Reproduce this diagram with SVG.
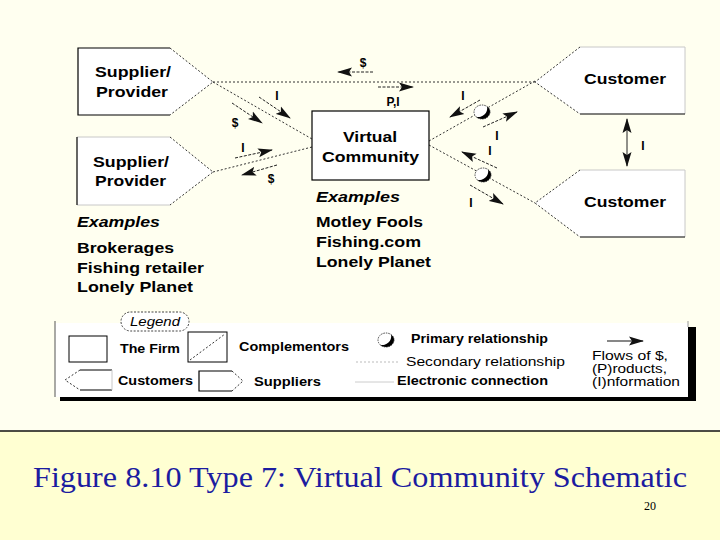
<svg xmlns="http://www.w3.org/2000/svg" width="720" height="540" viewBox="0 0 720 540">
<style>
.t{font-family:"Liberation Sans",Arial,sans-serif;font-weight:bold;fill:#000}
.n{font-size:15px}
.it{font-style:italic}
.lg{font-size:12px}
.rg{font-weight:normal}
.sol{fill:none;stroke:#000;stroke-width:1.2}
.faint{fill:none;stroke:#c8c8c8;stroke-width:1}
.dot{fill:none;stroke:#333;stroke-width:1;stroke-dasharray:2 2}
.shaft{fill:none;stroke:#222;stroke-width:1;stroke-dasharray:3 1.5;marker-end:url(#ah)}
.lbl{font-size:12px;text-anchor:middle}
</style>
<defs>
<marker id="ah" markerUnits="userSpaceOnUse" markerWidth="16" markerHeight="10" refX="14" refY="5" orient="auto">
<path d="M0,0.5 L15,5 L0,9.5 L3,5 Z" fill="#111"/>
</marker>
<marker id="ahs" markerUnits="userSpaceOnUse" markerWidth="16" markerHeight="10" refX="14" refY="5" orient="auto-start-reverse">
<path d="M0,0.5 L15,5 L0,9.5 L3,5 Z" fill="#111"/>
</marker>
<g id="prim">
<ellipse cx="0" cy="0" rx="8" ry="7" fill="#fff" stroke="#444" stroke-width="1" stroke-dasharray="1.5 1"/>
<path d="M5.1,-5.4 A8 7 0 1 1 -5.7,4.9 A9 9 0 0 0 5.1,-5.4 Z" fill="#000"/>
</g>
</defs>
<rect x="0" y="0" width="720" height="540" fill="#fffff0"/>
<rect x="0" y="431" width="720" height="109" fill="#ffffd2"/>
<line x1="0" y1="431" x2="720" y2="431" stroke="#111" stroke-width="1.5"/>

<g id="connectors">
<path class="dot" d="M213,82 L535,82"/>
<path class="dot" d="M213,82 L312,139"/>
<path class="dot" d="M213,172 L312,147"/>
<path class="dot" d="M429,141 L535,81"/>
<path class="dot" d="M429,145 L535,203"/>
<path class="shaft" d="M373,72 L338,72"/>
<path class="shaft" d="M378,87 L413,87"/>
<path class="shaft" d="M259,97 L290,118"/>
<path class="shaft" d="M232,103 L262,123"/>
<path class="shaft" d="M235,158 L272,150"/>
<path class="shaft" d="M277,165 L242,175"/>
<path class="shaft" d="M480,100 L450,117"/>
<path class="shaft" d="M483,127 L517,112"/>
<path class="shaft" d="M497,168 L462,152"/>
<path class="shaft" d="M470,185 L503,204"/>
<path d="M627,119 L627,166" fill="none" stroke="#222" stroke-width="1" marker-start="url(#ahs)" marker-end="url(#ah)"/>
<use href="#prim" x="482" y="112"/>
<use href="#prim" x="483" y="175"/>
<text class="t lbl" x="363" y="67">$</text>
<text class="t lbl" x="393" y="106">P,I</text>
<text class="t lbl" x="277" y="100">I</text>
<text class="t lbl" x="235" y="127">$</text>
<text class="t lbl" x="243" y="152">I</text>
<text class="t lbl" x="271" y="183">$</text>
<text class="t lbl" x="463" y="100">I</text>
<text class="t lbl" x="497" y="140">I</text>
<text class="t lbl" x="490" y="155">I</text>
<text class="t lbl" x="471" y="207">I</text>
<text class="t lbl" x="643" y="150">I</text>
</g>

<g id="supplier1">
<path d="M78,48 L170,48 L213,82 L170,115 L78,115 Z" fill="#fff"/>
<path class="sol" d="M170,48 L78,48 L78,115 L170,115"/>
<path class="dot" d="M170,48 L213,82 L170,115"/>
<text class="t n" x="95" y="77" textLength="76" lengthAdjust="spacingAndGlyphs">Supplier/</text>
<text class="t n" x="96" y="97" textLength="72" lengthAdjust="spacingAndGlyphs">Provider</text>
</g>
<g id="supplier2">
<path d="M77,137 L170,137 L213,172 L170,205 L77,205 Z" fill="#fff"/>
<path class="faint" d="M170,137 L77,137 M77,205 L170,205"/>
<path class="sol" d="M77,137 L77,205"/>
<path class="dot" d="M170,137 L213,172 L170,205"/>
<text class="t n" x="93" y="167" textLength="76" lengthAdjust="spacingAndGlyphs">Supplier/</text>
<text class="t n" x="95" y="186" textLength="71" lengthAdjust="spacingAndGlyphs">Provider</text>
</g>
<g id="customer1">
<path d="M580,47 L685,47 L685,114 L580,114 L535,82 Z" fill="#fff"/>
<path class="faint" d="M580,47 L685,47 L685,114"/>
<path class="sol" d="M580,114 L685,114"/>
<path class="dot" d="M580,47 L535,82 L580,114"/>
<text class="t n" x="584" y="84" textLength="82" lengthAdjust="spacingAndGlyphs">Customer</text>
</g>
<g id="customer2">
<path d="M580,170 L685,170 L685,237 L580,237 L535,203 Z" fill="#fff"/>
<path class="faint" d="M580,170 L685,170 L685,237"/>
<path class="sol" d="M580,237 L685,237"/>
<path class="dot" d="M580,170 L535,203 L580,237"/>
<text class="t n" x="584" y="207" textLength="82" lengthAdjust="spacingAndGlyphs">Customer</text>
</g>
<g id="virtual-community">
<rect x="312" y="111" width="117" height="69" fill="#fff" stroke="#000" stroke-width="1.2"/>
<text class="t n" x="343" y="142" textLength="54" lengthAdjust="spacingAndGlyphs">Virtual</text>
<text class="t n" x="322" y="162" textLength="97" lengthAdjust="spacingAndGlyphs">Community</text>
</g>
<g id="vc-examples">
<text class="t n it" x="316" y="202" textLength="84" lengthAdjust="spacingAndGlyphs">Examples</text>
<text class="t n" x="316" y="227" textLength="107" lengthAdjust="spacingAndGlyphs">Motley Fools</text>
<text class="t n" x="316" y="247" textLength="105" lengthAdjust="spacingAndGlyphs">Fishing.com</text>
<text class="t n" x="316" y="267" textLength="115" lengthAdjust="spacingAndGlyphs">Lonely Planet</text>
</g>
<g id="supplier-examples">
<text class="t n it" x="77" y="227" textLength="83" lengthAdjust="spacingAndGlyphs">Examples</text>
<text class="t n" x="77" y="253" textLength="97" lengthAdjust="spacingAndGlyphs">Brokerages</text>
<text class="t n" x="77" y="273" textLength="127" lengthAdjust="spacingAndGlyphs">Fishing retailer</text>
<text class="t n" x="77" y="292" textLength="116" lengthAdjust="spacingAndGlyphs">Lonely Planet</text>
</g>

<g id="legend">
<rect x="60" y="327" width="636" height="74" fill="#000"/>
<rect x="55" y="323" width="633" height="74" fill="#fff"/>
<path d="M55,321 L55,397" stroke="#555" stroke-width="1" fill="none"/>
<path d="M688,321 L688,327" stroke="#999" stroke-width="1" fill="none"/>
<rect x="121" y="312" width="68" height="19" rx="9.5" fill="#fff" stroke="#444" stroke-width="1" stroke-dasharray="2 1.5"/>
<text class="t lg it rg" x="155" y="326" text-anchor="middle" textLength="50" lengthAdjust="spacingAndGlyphs">Legend</text>
<rect x="69" y="336" width="38" height="26" fill="#fff" stroke="#000" stroke-width="1"/>
<text class="t lg" x="120" y="353" textLength="60" lengthAdjust="spacingAndGlyphs">The Firm</text>
<rect x="188" y="332" width="39" height="30" fill="#fff" stroke="#000" stroke-width="1"/>
<path class="dot" d="M190,360 L225,334"/>
<text class="t lg" x="239" y="351" textLength="110" lengthAdjust="spacingAndGlyphs">Complementors</text>
<path class="sol" d="M80,370 L112,370 M80,390 L112,390" stroke-width="1"/>
<path class="faint" d="M112,370 L112,390"/>
<path class="dot" d="M80,370 L65,380 L80,390"/>
<text class="t lg" x="118" y="385" textLength="75" lengthAdjust="spacingAndGlyphs">Customers</text>
<path class="sol" d="M232,371 L199,371 L199,391 L232,391" stroke-width="1"/>
<path class="dot" d="M232,371 L243,381 L232,391"/>
<text class="t lg" x="254" y="386" textLength="67" lengthAdjust="spacingAndGlyphs">Suppliers</text>
<use href="#prim" x="386" y="340"/>
<text class="t lg" x="411" y="343" textLength="137" lengthAdjust="spacingAndGlyphs">Primary relationship</text>
<path d="M356,362 L400,362" stroke="#bbb" stroke-width="1" stroke-dasharray="2 2" fill="none"/>
<text class="t lg rg" x="406" y="366" textLength="159" lengthAdjust="spacingAndGlyphs">Secondary relationship</text>
<path d="M355,382 L394,382" stroke="#ccc" stroke-width="1" fill="none"/>
<text class="t lg" x="397" y="385" textLength="151" lengthAdjust="spacingAndGlyphs">Electronic connection</text>
<path d="M607,341 L643,341" stroke="#111" stroke-width="1.2" fill="none" marker-end="url(#ah)"/>
<text class="t lg rg" x="592" y="360" font-size="13" textLength="76" lengthAdjust="spacingAndGlyphs">Flows of $,</text>
<text class="t lg rg" x="592" y="373" font-size="13" textLength="75" lengthAdjust="spacingAndGlyphs">(P)roducts,</text>
<text class="t lg rg" x="592" y="386" font-size="13" textLength="88" lengthAdjust="spacingAndGlyphs">(I)nformation</text>
</g>

<text x="33" y="487" font-family="'Liberation Serif','Times New Roman',serif" font-size="29" fill="#1c1ca0" textLength="654" lengthAdjust="spacingAndGlyphs">Figure 8.10 Type 7: Virtual Community Schematic</text>
<text x="644" y="510" font-family="'Liberation Serif','Times New Roman',serif" font-size="12" fill="#000">20</text>
</svg>
